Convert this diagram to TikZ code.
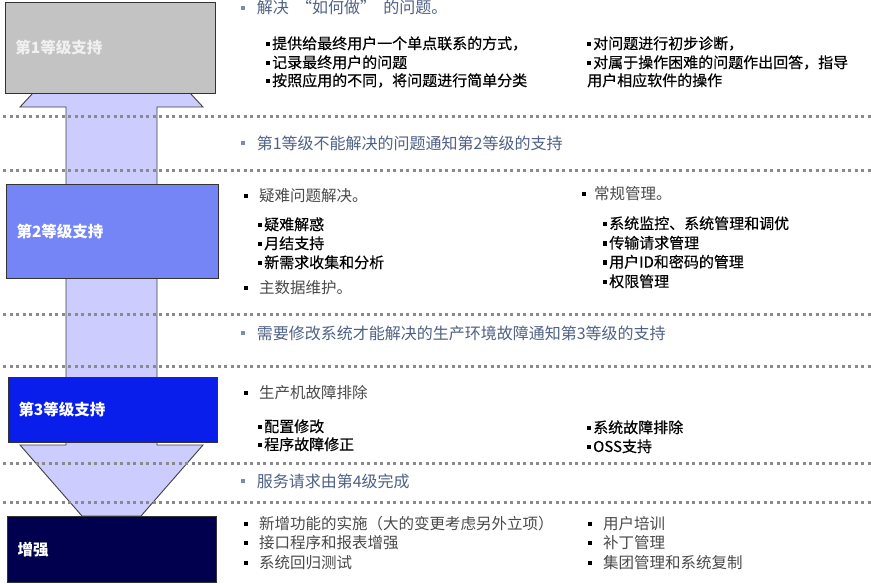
\documentclass[tikz,border=0pt]{standalone}
\usepackage{fontspec}
\setmainfont{Noto Sans CJK SC}
\newfontfamily\subfont{Noto Sans CJK SC}[FakeBold=0.35]
\definecolor{hdr}{HTML}{4F6185}
\definecolor{hbul}{HTML}{7D8CA8}
\definecolor{sgray}{HTML}{4A4A4A}
\definecolor{dotc}{HTML}{8A8A8A}
\definecolor{arrowc}{HTML}{CCCCFF}
\definecolor{boxa}{HTML}{C3C3C3}
\definecolor{boxb}{HTML}{7585F5}
\definecolor{boxc}{HTML}{0A1EEB}
\definecolor{boxd}{HTML}{00004F}
\newcommand\sqb{\rule[0.2em]{0.28em}{0.28em}\hspace{0.12em}}
\newcommand\hdrbul{{\color{hbul}\rule[0.22em]{0.26em}{0.26em}}\hspace{11.5pt}}
\newcommand\serbul{{\color{black}\rule[0.22em]{0.26em}{0.26em}}\hspace{11pt}}
\begin{document}
\begin{tikzpicture}[x=1pt,y=-1pt,
  hdrtxt/.style={anchor=base west, inner sep=0pt, text=hdr, font=\fontsize{16}{19}\selectfont},
  subtxt/.style={anchor=base west, inner sep=0pt, text=black, font=\subfont\fontsize{15}{18}\selectfont},
  sertxt/.style={anchor=base west, inner sep=0pt, text=sgray, font=\fontsize{15.5}{18}\selectfont},
  level/.style={anchor=north west, draw=black!80, line width=1pt, inner xsep=10pt, inner ysep=0pt, align=left, text=white, font=\bfseries\fontsize{15.5}{18}\selectfont},
  sepline/.style={draw=dotc, line width=3pt, dash pattern=on 3.3pt off 3.2pt},
  bigarrow/.style={fill=arrowc, draw=black!75, line width=0.9pt, line join=miter},
]
\useasboundingbox[fill=white] (0,0) rectangle (871,584);

% double arrow behind the boxes
\draw[bigarrow] (33,93) -- (190,93) -- (203,107) -- (157,107) -- (157,445) -- (203,445)
  -- (141,516) -- (82,516) -- (20,445) -- (66,445) -- (66,107) -- (20,107) -- cycle;

% separators
\foreach \yy/\nm in {116/s1,170/s2,314/s3,366/s4,463/s5,502/s6}{
  \coordinate (\nm a) at (3,\yy);
  \coordinate (\nm b) at (871,\yy);
  \draw[sepline] (\nm a) -- (\nm b);
}

% level boxes
\node[level, fill=boxa, text=white!94!black, minimum width=210pt, minimum height=91pt, text width=190pt] (b1) at (5,2) {第1等级支持};
\node[level, fill=boxb, minimum width=212pt, minimum height=94pt, text width=192pt] (b2) at (6,184) {第2等级支持};
\node[level, fill=boxc, minimum width=209pt, minimum height=65pt, text width=189pt] (b3) at (8,377) {第3等级支持};
\node[level, fill=boxd, minimum width=209pt, minimum height=66pt, text width=189pt] (b4) at (7,516) {增强};

% row 1
\node[hdrtxt] (h1) at (241,13.5) {\hdrbul 解决\hspace{0.45em}“如何做”\hspace{0.45em}的问题。};
\node[subtxt] (r1a) at (266,49) {\sqb 提供给最终用户一个单点联系的方式，};
\node[subtxt] (r1b) at (266,68) {\sqb 记录最终用户的问题};
\node[subtxt] (r1c) at (266,86) {\sqb 按照应用的不同，将问题进行简单分类};
\node[subtxt] (r1d) at (587,49) {\sqb 对问题进行初步诊断，};
\node[subtxt] (r1e) at (587,68) {\sqb 对属于操作困难的问题作出回答，指导};
\node[subtxt] (r1f) at (587,86) {用户相应软件的操作};

% header 2
\node[hdrtxt] (h2) at (241,149) {\hdrbul 第1等级不能解决的问题通知第2等级的支持};

% row 2
\node[sertxt] (r2a) at (244,201) {\serbul 疑难问题解决。};
\node[subtxt] (r2b) at (258,230) {\sqb 疑难解惑};
\node[subtxt] (r2c) at (258,249) {\sqb 月结支持};
\node[subtxt] (r2d) at (258,268) {\sqb 新需求收集和分析};
\node[sertxt] (r2e) at (244,293) {\serbul 主数据维护。};
\node[sertxt] (r2f) at (582,199) {{\color{black}\rule[0.22em]{0.26em}{0.26em}}\hspace{8pt}常规管理。};
\node[subtxt] (r2g) at (603,229) {\sqb 系统监控、系统管理和调优};
\node[subtxt] (r2h) at (603,248.5) {\sqb 传输请求管理};
\node[subtxt] (r2i) at (603,267.5) {\sqb 用户ID和密码的管理};
\node[subtxt] (r2j) at (603,287) {\sqb 权限管理};

% header 3
\node[hdrtxt] (h3) at (241,339) {\hdrbul 需要修改系统才能解决的生产环境故障通知第3等级的支持};

% row 3
\node[sertxt] (r3a) at (244,398) {\serbul 生产机故障排除};
\node[subtxt] (r3b) at (258,432) {\sqb 配置修改};
\node[subtxt] (r3c) at (258,450) {\sqb 程序故障修正};
\node[subtxt] (r3d) at (587,433) {\sqb 系统故障排除};
\node[subtxt] (r3e) at (587,452) {\sqb OSS支持};

% header 4
\node[hdrtxt] (h4) at (241,487) {\hdrbul 服务请求由第4级完成};

% row 5
\node[sertxt] (r5a) at (244,529) {\serbul 新增功能的实施（大的变更考虑另外立项）};
\node[sertxt] (r5b) at (244,548) {\serbul 接口程序和报表增强};
\node[sertxt] (r5c) at (244,568) {\serbul 系统回归测试};
\node[sertxt] (r5d) at (588,529) {\serbul 用户培训};
\node[sertxt] (r5e) at (588,548) {\serbul 补丁管理};
\node[sertxt] (r5f) at (588,568) {\serbul 集团管理和系统复制};
\end{tikzpicture}
\end{document}
